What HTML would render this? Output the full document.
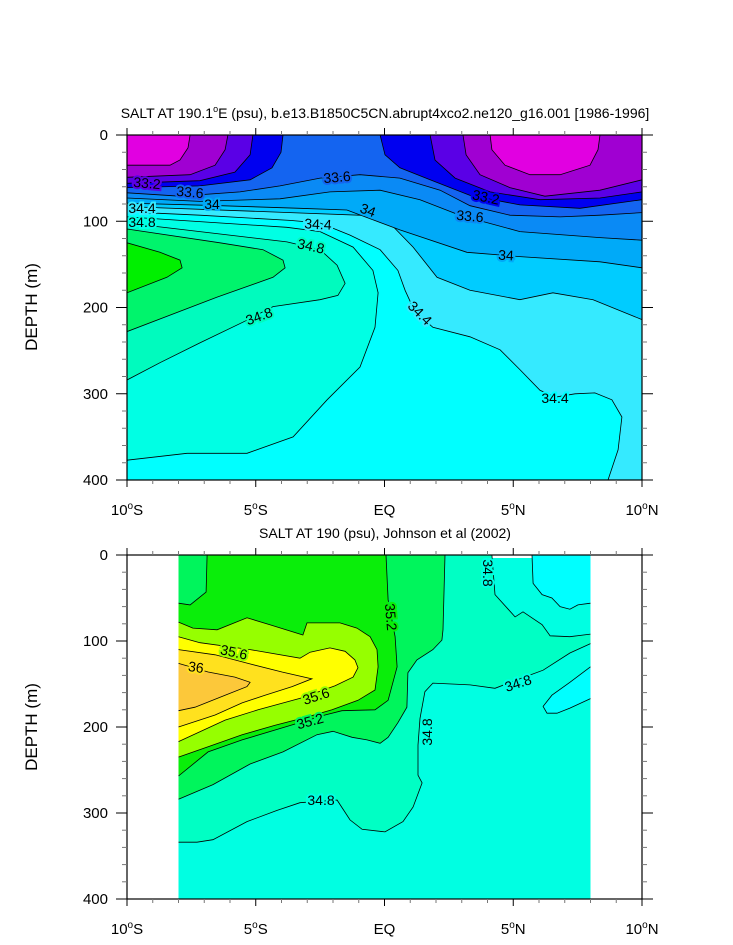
<!DOCTYPE html>
<html><head><meta charset="utf-8"><style>
html,body{margin:0;padding:0;background:#fff;}
svg{display:block;font-family:"Liberation Sans",sans-serif;}
</style></head><body>
<svg id="chart" width="733" height="945" viewBox="0 0 733 945" xmlns="http://www.w3.org/2000/svg">
<text x="385" y="118" font-size="14" text-anchor="middle">SALT AT 190.1<tspan font-size="9" dy="-6">o</tspan><tspan dy="6">E (psu), b.e13.B1850C5CN.abrupt4xco2.ne120_g16.001 [1986-1996]</tspan></text>
<text x="385" y="538" font-size="14" text-anchor="middle">SALT AT 190 (psu), Johnson et al (2002)</text>
<text transform="translate(37,307) rotate(-90)" font-size="17" text-anchor="middle">DEPTH (m)</text>
<text transform="translate(37,727) rotate(-90)" font-size="17" text-anchor="middle">DEPTH (m)</text>
<g id="top"></g>
<g id="bot"></g>
</svg>
<script>
// ---------- data (lat in degrees, depth in m) ----------
const yTicks=[0,100,200,300,400];
const xTicks=[-10,-5,0,5,10];
const xTickLabels=["10","5","EQ","5","10"];
const xTickHemi=["S","S","","N","N"];

// top panel contour lines
const tM1Lat=[-10,-8.33,-7.94,-7.63,-7.55], tM1Dep=[35,35,29,15,0];
const tM2Lat=[4.1,4.17,4.68,5.65,6.82,7.98,8.29,8.37], tM2Dep=[0,17,35,46,46,35,17,0];
const tP1Lat=[-10,-7.55,-6.58,-6.19,-6.08], tP1Dep=[49,46,35,17,0];
const tP2Lat=[3.05,3.17,3.71,4.87,6.23,8.37,10], tP2Dep=[0,23,46,61,71,64,52];
const tV1Lat=[-10,-7.17,-5.81,-5.22,-5.11], tV1Dep=[56,53,43,23,0];
const tV2Lat=[1.77,1.96,2.74,4.1,6.04,8.37,10], tV2Dep=[0,29,50,66,75,73,66];
const tB1Lat=[-10,-7.17,-5.22,-4.37,-4.02,-3.94], tB1Dep=[61,59,52,38,20,0];
const tB2Lat=[-0.17,0.02,0.6,1.77,3.32,5.26,7.59,10], tB2Dep=[0,23,38,52,70,81,85,75];
const t336Lat=[-10,-7.94,-5.61,-4.06,-2.5,-0.95,0.6,2.16,3.32,4.87,6.82,8.37,10], t336Dep=[67,71,66,59,50,46,50,64,82,93,95,93,90];
const t338Lat=[-10,-7.17,-4.06,-2.12,-0.17,1.38,2.93,5.26,8.37,10], t338Dep=[73,77,74,66,64,75,93,112,119,122];
const t340Lat=[-10,-6.39,-3.28,-1.46,0.6,3.2,5.26,8.37,10], t340Dep=[79,82,85,87,110,136,141,147,154];
const t342Lat=[-10,-3.67,-0.06,1.11,2.04,3.32,5.26,6.54,8.1,10], t342Dep=[83,90,94,130,165,180,191,183,191,214];
const t344Lat=[-10,-7.17,-3.67,-2.5,-1.34,-0.17,0.52,0.8,1.18,1.88,3.32,4.49,5.26,6.04,6.62,7.4,8.17,8.83,9.22,9.07,8.68];
const t344Dep=[89,93,99,102,116,133,157,180,205,223,234,249,272,296,304,300,299,307,327,365,400];
const t346Lat=[-10,-7.67,-5.34,-3.55,-2.23,-0.95,-0.37,-0.25,-0.45,-1.22,-2.5,-3.79,-10], t346Dep=[377,369,369,350,307,269,223,183,157,130,112,107,95];
const t348Lat=[-10,-3.79,-2.5,-1.84,-1.53,-1.81,-2.5,-4.33,-5.5,-7.17,-8.72,-10], t348Dep=[102,124,133,151,172,186,191,199,217,241,264,284];
const t350Lat=[-10,-6.39,-4.72,-3.94,-3.86,-4.33,-6.5,-10], t350Dep=[109,125,133,145,154,165,188,228];
const t352Lat=[-10,-8.72,-7.94,-7.86,-8.45,-10], t352Dep=[125,136,145,154,165,183];

// bottom panel contour lines
const b348aLat=[4.17,4.29,5.07,5.38,6.12,6.43,7.2,8], b348aDep=[0,46,72,66,81,94,95,92];
const b348bLat=[8,7.2,6.16,5.34,4.29,3.32,1.88,1.57,1.38,1.3,1.3,1.46,1.11,0.72,0.02,-0.87,-1.34,-1.84,-3.28,-4.17,-5.34,-6.66,-7.28,-8];
const b348bDep=[103,114,134,143,155,151,149,159,190,221,256,265,293,310,322,319,308,285,288,297,310,331,334,334];
const b350Lat=[2.35,2.27,2.23,1.88,1.26,0.91,0.87,0.52,0.14,-0.17,-0.68,-1.26,-2.0,-2.62,-3.94,-5.22,-6.66,-8];
const b350Dep=[0,87,99,110,122,137,177,195,212,219,215,212,205,209,229,243,267,284];
const b352aLat=[-8,-7.55,-6.93,-6.89], b352aDep=[56,58,43,0];
const b352bLat=[0.06,0.14,0.41,0.49,0.14,-0.37,-1.65,-2.31,-3.86,-5.53,-6.85,-8], b352bDep=[0,52,95,130,169,180,181,186,200,215,229,257];
const b354Lat=[-8,-7.44,-6.5,-5.34,-4.45,-3.17,-3.01,-1.73,-1.07,-0.56,-0.29,-0.25,-0.37,-1.03,-2.04,-2.97,-4.25,-5.53,-6.85,-8];
const b354Dep=[78,85,87,73,81,93,79,79,85,95,110,130,157,169,180,188,198,209,223,235];
const b356Lat=[-8,-7.17,-5.22,-3.28,-2.89,-2.12,-1.53,-1.15,-1.03,-1.22,-1.92,-3.2,-4.91,-6.19,-8];
const b356Dep=[95,102,110,120,113,108,112,122,131,142,152,166,180,192,217];
const b358Lat=[-8,-6.58,-5.3,-3.98,-2.82,-3.59,-4.64,-5.53,-6.58,-8], b358Dep=[110,116,126,136,144,153,163,172,186,200];
const b360Lat=[-8,-6.85,-5.81,-5.22,-5.34,-6.19,-7.36,-8], b360Dep=[126,136,142,148,153,163,177,181];
const b346aLat=[5.73,5.77,6.12,6.5,6.82,7.2,7.51,8], b346aDep=[0,33,46,50,60,63,58,56];
const b346bLat=[8,7.2,6.5,6.16,6.31,6.7,7.2,8], b346bDep=[130,148,163,176,184,184,178,167];

// ---------- drawing ----------
const NS="http://www.w3.org/2000/svg";
const X=lat=>127+(lat+10)*25.75;
const Yt=d=>135+d*0.8625;
const Yb=d=>555+d*0.86;
function mk(tag,attrs,parent){const e=document.createElementNS(NS,tag);for(const k in attrs)e.setAttribute(k,attrs[k]);parent.appendChild(e);return e;}
function pts(lats,deps,Y){return lats.map((l,i)=>X(l).toFixed(1)+","+Y(deps[i]).toFixed(1));}

function region(g,Y,parts,close,fill,name){
  let p=[];parts.forEach(pr=>{p=p.concat(pts(pr[0],pr[1],Y));});
  close.forEach(c=>p.push(X(c[0]).toFixed(1)+","+Y(c[1]).toFixed(1)));
  const poly=mk('polygon',{points:p.join(' '),fill:fill,stroke:'none'},g);
  
  
  parts.forEach(pr=>{
    const l=mk('polyline',{points:pts(pr[0],pr[1],Y).join(' '),fill:'none',stroke:'#000','stroke-width':'0.8'},g);
    
    
  });
}

function axes(g,y0,y1,Y){
  const f=mk('rect',{x:127,y:y0,width:515,height:y1-y0,fill:'none',stroke:'#000','stroke-width':'1.2'},g);
  
  
  for(let lat=-10;lat<=10;lat++){
    const major=lat%5===0, len=major?7:4;
    [[y1,y1+len],[y0,y0-len]].forEach(s=>{
      const t=mk('line',{x1:X(lat),x2:X(lat),y1:s[0],y2:s[1],stroke:major?'#000':'#777','stroke-width':'1'},g);
      
      
    });
  }
  for(let d=0;d<=400;d+=20){
    const major=d%100===0, len=major?11:5;
    [[127,127-len],[642,642+len]].forEach(s=>{
      const t=mk('line',{x1:s[0],x2:s[1],y1:Y(d),y2:Y(d),stroke:major?'#000':'#777','stroke-width':'1'},g);
      
      
    });
  }
  yTicks.forEach(d=>{
    const t=mk('text',{x:108,y:Y(d)+5,'font-size':'15','text-anchor':'end'},g);
    t.textContent=d;
    
    
  });
  xTicks.forEach((lat,i)=>{
    const t=mk('text',{x:X(lat),y:y1+35,'font-size':'15','text-anchor':'middle'},g);
    
    
    if(xTickHemi[i]){
      t.appendChild(document.createTextNode(xTickLabels[i]));
      const s=mk('tspan',{'font-size':'10',dy:'-6'},t);s.textContent='o';
      const h=mk('tspan',{dy:'6'},t);h.textContent=xTickHemi[i];
    } else t.textContent=xTickLabels[i];
  });
}
function labels(g,list){
  list.forEach(a=>{
    const t=mk('text',{x:a[1],y:a[2],'font-size':'14','text-anchor':'middle','dominant-baseline':'central',transform:'rotate('+a[3]+' '+a[1]+' '+a[2]+')',stroke:a[4],'stroke-width':'4','paint-order':'stroke'},g);
    t.textContent=a[0];
    
    
  });
}

// top panel
const gt=document.getElementById('top');
const bgT=mk('rect',{x:127,y:135,width:515,height:345,fill:'#00ffff'},gt);


region(gt,Yt,[[t346Lat,t346Dep]],[],'#00ffe4','top-34_6');
region(gt,Yt,[[t348Lat,t348Dep]],[],'#00fbbe','top-34_8');
region(gt,Yt,[[t350Lat,t350Dep]],[],'#00f46c','top-35_0');
region(gt,Yt,[[t352Lat,t352Dep]],[],'#00f000','top-35_2');
region(gt,Yt,[[t344Lat,t344Dep]],[[10,400],[10,0],[-10,0]],'#35eaff','top-34_4');
region(gt,Yt,[[t342Lat,t342Dep]],[[10,0],[-10,0]],'#00ccff','top-34_2');
region(gt,Yt,[[t340Lat,t340Dep]],[[10,0],[-10,0]],'#00aaf8','top-34_0');
region(gt,Yt,[[t338Lat,t338Dep]],[[10,0],[-10,0]],'#0a8af5','top-33_8');
region(gt,Yt,[[t336Lat,t336Dep]],[[10,0],[-10,0]],'#1464f0','top-33_6');
region(gt,Yt,[[tB1Lat,tB1Dep]],[[-10,0]],'#0000f0','top-33_4-left');
region(gt,Yt,[[tB2Lat,tB2Dep]],[[10,0]],'#0000f0','top-33_4-right');
region(gt,Yt,[[tV1Lat,tV1Dep]],[[-10,0]],'#5a00e6','top-33_2-left');
region(gt,Yt,[[tV2Lat,tV2Dep]],[[10,0]],'#5a00e6','top-33_2-right');
region(gt,Yt,[[tP1Lat,tP1Dep]],[[-10,0]],'#a000d2','top-33_0-left');
region(gt,Yt,[[tP2Lat,tP2Dep]],[[10,0]],'#a000d2','top-33_0-right');
region(gt,Yt,[[tM1Lat,tM1Dep]],[[-10,0]],'#e100e1','top-32_8-left');
region(gt,Yt,[[tM2Lat,tM2Dep]],[],'#e100e1','top-32_8-right');
labels(gt,[["33.2",147,183,5,'#5a00e6'],["33.6",190,192,5,'#1464f0'],["34",212,204,0,'#00aaf8'],["34.4",142,208,0,'#35eaff'],["34.8",142,222,0,'#00ffe4'],
 ["33.6",337,177,-5,'#1464f0'],["34",368,210,20,'#00aaf8'],["34.4",318,224,3,'#35eaff'],["34.8",311,246,12,'#00fbbe'],["33.2",486,197,12,'#0000f0'],
 ["33.6",470,216,5,'#0a8af5'],["34",506,255,3,'#00aaf8'],["34.4",420,313,45,'#35eaff'],["34.8",259,316,-20,'#00fbbe'],["34.4",555,398,0,'#00ffff']]);
axes(gt,135,480,Yt);

// bottom panel
const gb=document.getElementById('bot');
const bgB=mk('rect',{x:X(-8),y:558,width:X(8)-X(-8),height:341,fill:'#00ffe2'},gb);


region(gb,Yb,[[b348aLat,b348aDep],[b348bLat,b348bDep]],[[-8,0]],'#00ffc4','bot-34_8');
region(gb,Yb,[[b350Lat,b350Dep]],[[-8,0]],'#00f55c','bot-35_0');
region(gb,Yb,[[b352aLat,b352aDep],[b352bLat,b352bDep]],[],'#0aee0a','bot-35_2');
region(gb,Yb,[[b354Lat,b354Dep]],[],'#96ff00','bot-35_4');
region(gb,Yb,[[b356Lat,b356Dep]],[],'#ffff00','bot-35_6');
region(gb,Yb,[[b358Lat,b358Dep]],[],'#ffe11e','bot-35_8');
region(gb,Yb,[[b360Lat,b360Dep]],[],'#fcc83a','bot-36_0');
region(gb,Yb,[[b346aLat,b346aDep]],[[8,0]],'#00ffff','bot-34_6-top');
region(gb,Yb,[[b346bLat,b346bDep]],[],'#00ffff','bot-34_6-blob');
labels(gb,[["35.6",234,652,12,'#96ff00'],["36",196,667,8,'#ffe11e'],["35.6",316,696,-18,'#96ff00'],["35.2",310,721,-15,'#00f55c'],
 ["35.2",391,617,85,'#0aee0a'],["34.8",488,573,90,'#00ffe2'],["34.8",518,683,-18,'#00ffe2'],["34.8",427,732,-90,'#00ffe2'],["34.8",321,800,0,'#00ffe2']]);
axes(gb,555,899,Yb);
</script>
</body></html>
